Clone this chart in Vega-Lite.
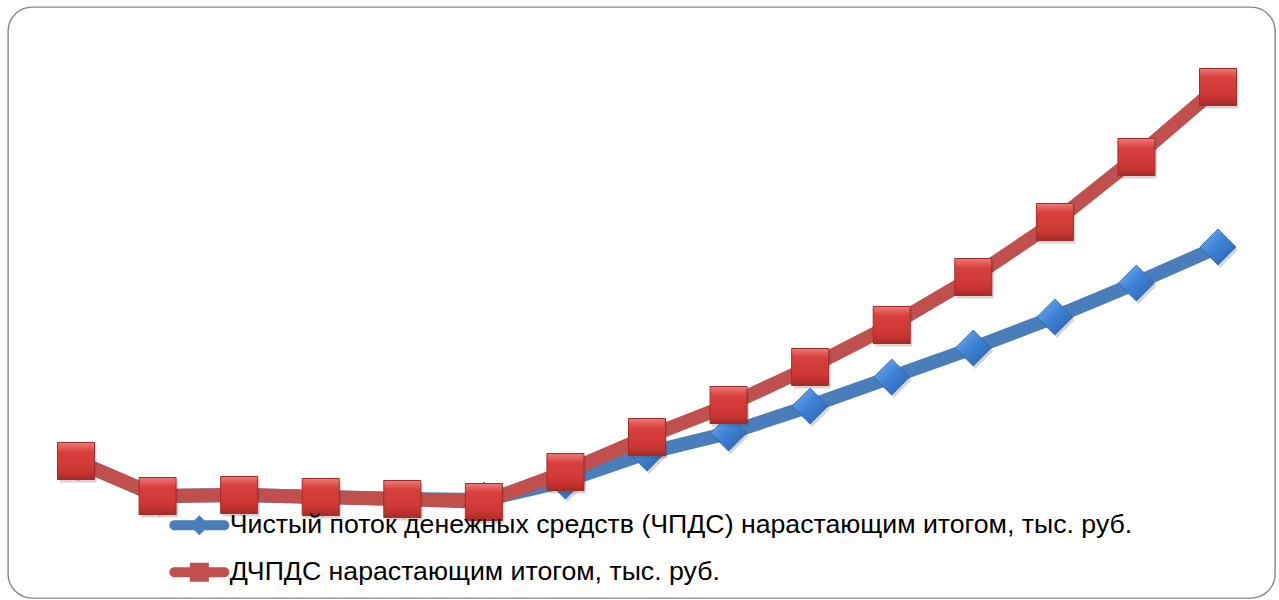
{
  "$schema": "https://vega.github.io/schema/vega-lite/v6.json",
  "width": 1267,
  "height": 591,
  "autosize": {"type": "none"},
  "padding": {"left": 8, "top": 7, "right": 4, "bottom": 2},
  "background": "#ffffff",
  "config": {
    "view": {"stroke": "#858585", "strokeWidth": 1.4, "cornerRadius": 24},
    "font": "Liberation Sans"
  },
  "data": {
    "values": [
      {"step": 1, "series": "Чистый поток денежных средств (ЧПДС) нарастающим итогом, тыс. руб.", "value": 1390},
      {"step": 2, "series": "Чистый поток денежных средств (ЧПДС) нарастающим итогом, тыс. руб.", "value": 1040},
      {"step": 3, "series": "Чистый поток денежных средств (ЧПДС) нарастающим итогом, тыс. руб.", "value": 1050},
      {"step": 4, "series": "Чистый поток денежных средств (ЧПДС) нарастающим итогом, тыс. руб.", "value": 1030},
      {"step": 5, "series": "Чистый поток денежных средств (ЧПДС) нарастающим итогом, тыс. руб.", "value": 1010},
      {"step": 6, "series": "Чистый поток денежных средств (ЧПДС) нарастающим итогом, тыс. руб.", "value": 1000},
      {"step": 7, "series": "Чистый поток денежных средств (ЧПДС) нарастающим итогом, тыс. руб.", "value": 1190},
      {"step": 8, "series": "Чистый поток денежных средств (ЧПДС) нарастающим итогом, тыс. руб.", "value": 1470},
      {"step": 9, "series": "Чистый поток денежных средств (ЧПДС) нарастающим итогом, тыс. руб.", "value": 1670},
      {"step": 10, "series": "Чистый поток денежных средств (ЧПДС) нарастающим итогом, тыс. руб.", "value": 1940},
      {"step": 11, "series": "Чистый поток денежных средств (ЧПДС) нарастающим итогом, тыс. руб.", "value": 2230},
      {"step": 12, "series": "Чистый поток денежных средств (ЧПДС) нарастающим итогом, тыс. руб.", "value": 2520},
      {"step": 13, "series": "Чистый поток денежных средств (ЧПДС) нарастающим итогом, тыс. руб.", "value": 2830},
      {"step": 14, "series": "Чистый поток денежных средств (ЧПДС) нарастающим итогом, тыс. руб.", "value": 3170},
      {"step": 15, "series": "Чистый поток денежных средств (ЧПДС) нарастающим итогом, тыс. руб.", "value": 3530},
      {"step": 1, "series": "ДЧПДС нарастающим итогом, тыс. руб.", "value": 1390},
      {"step": 2, "series": "ДЧПДС нарастающим итогом, тыс. руб.", "value": 1040},
      {"step": 3, "series": "ДЧПДС нарастающим итогом, тыс. руб.", "value": 1050},
      {"step": 4, "series": "ДЧПДС нарастающим итогом, тыс. руб.", "value": 1030},
      {"step": 5, "series": "ДЧПДС нарастающим итогом, тыс. руб.", "value": 1010},
      {"step": 6, "series": "ДЧПДС нарастающим итогом, тыс. руб.", "value": 980},
      {"step": 7, "series": "ДЧПДС нарастающим итогом, тыс. руб.", "value": 1280},
      {"step": 8, "series": "ДЧПДС нарастающим итогом, тыс. руб.", "value": 1630},
      {"step": 9, "series": "ДЧПДС нарастающим итогом, тыс. руб.", "value": 1950},
      {"step": 10, "series": "ДЧПДС нарастающим итогом, тыс. руб.", "value": 2330},
      {"step": 11, "series": "ДЧПДС нарастающим итогом, тыс. руб.", "value": 2750},
      {"step": 12, "series": "ДЧПДС нарастающим итогом, тыс. руб.", "value": 3230},
      {"step": 13, "series": "ДЧПДС нарастающим итогом, тыс. руб.", "value": 3780},
      {"step": 14, "series": "ДЧПДС нарастающим итогом, тыс. руб.", "value": 4430},
      {"step": 15, "series": "ДЧПДС нарастающим итогом, тыс. руб.", "value": 5130}
    ]
  },
  "encoding": {
    "x": {"field": "step", "type": "quantitative", "scale": {"domain": [1, 15], "range": [68, 1210]}, "axis": null},
    "y": {"field": "value", "type": "quantitative", "scale": {"domain": [20, 5930], "zero": false, "nice": false}, "axis": null}
  },
  "layer": [
    {
      "transform": [{"filter": "datum.series === 'Чистый поток денежных средств (ЧПДС) нарастающим итогом, тыс. руб.'"}],
      "mark": {"type": "line", "strokeWidth": 14, "strokeJoin": "round", "strokeCap": "round"},
      "encoding": {
        "color": {
          "field": "series",
          "type": "nominal",
          "scale": {
            "domain": ["Чистый поток денежных средств (ЧПДС) нарастающим итогом, тыс. руб.", "ДЧПДС нарастающим итогом, тыс. руб."],
            "range": ["#4a7ebb", "#c0504d"]
          },
          "legend": {
            "orient": "none",
            "legendX": 178,
            "legendY": 505,
            "direction": "vertical",
            "title": null,
            "padding": 0,
            "labelFont": "Liberation Sans",
            "labelFontSize": 26.7,
            "labelColor": "#000000",
            "labelLimit": 0,
            "labelOffset": 17,
            "rowPadding": 19,
            "symbolSize": 400,
            "symbolStrokeWidth": 0,
            "encode": {
              "symbols": {
                "update": {
                  "shape": [
                    {"test": "datum.value === 'Чистый поток денежных средств (ЧПДС) нарастающим итогом, тыс. руб.'", "value": "M-2.5,-0.5L2.5,-0.5A0.5,0.5,0,0,1,2.5,0.5L-2.5,0.5A0.5,0.5,0,0,1,-2.5,-0.5Z M0,-1L1,0L0,1L-1,0Z"},
                    {"value": "M-2.5,-0.5L2.5,-0.5A0.5,0.5,0,0,1,2.5,0.5L-2.5,0.5A0.5,0.5,0,0,1,-2.5,-0.5Z M-0.95,-0.95L0.95,-0.95L0.95,0.95L-0.95,0.95Z"}
                  ],
                  "fill": [
                    {"test": "datum.value === 'Чистый поток денежных средств (ЧПДС) нарастающим итогом, тыс. руб.'", "value": "#4a7ebb"},
                    {"value": "#c0504d"}
                  ],
                  "stroke": {"value": "transparent"},
                  "strokeWidth": {"value": 0}
                }
              }
            }
          }
        }
      }
    },
    {
      "transform": [{"filter": "datum.series === 'Чистый поток денежных средств (ЧПДС) нарастающим итогом, тыс. руб.'"}],
      "mark": {"type": "point", "shape": "diamond", "size": 1296, "filled": true, "fill": "#404040", "opacity": 0.22, "xOffset": 2, "yOffset": 3, "strokeWidth": 0}
    },
    {
      "transform": [{"filter": "datum.series === 'Чистый поток денежных средств (ЧПДС) нарастающим итогом, тыс. руб.'"}],
      "mark": {
        "type": "point",
        "shape": "diamond",
        "size": 1296,
        "filled": true,
        "opacity": 1,
        "fill": {
          "gradient": "linear",
          "x1": 0, "y1": 0, "x2": 1, "y2": 1,
          "stops": [
            {"offset": 0, "color": "#7ab2f2"},
            {"offset": 0.45, "color": "#3f84d8"},
            {"offset": 1, "color": "#2a5fa6"}
          ]
        },
        "stroke": "#2f66ad",
        "strokeWidth": 0.8
      }
    },
    {
      "transform": [{"filter": "datum.series === 'ДЧПДС нарастающим итогом, тыс. руб.'"}],
      "mark": {"type": "line", "strokeWidth": 14, "strokeJoin": "round", "strokeCap": "round"},
      "encoding": {
        "color": {"field": "series", "type": "nominal"}
      }
    },
    {
      "transform": [{"filter": "datum.series === 'ДЧПДС нарастающим итогом, тыс. руб.'"}],
      "mark": {"type": "point", "shape": "square", "size": 1369, "filled": true, "fill": "#404040", "opacity": 0.22, "xOffset": 2, "yOffset": 3, "strokeWidth": 0}
    },
    {
      "transform": [{"filter": "datum.series === 'ДЧПДС нарастающим итогом, тыс. руб.'"}],
      "mark": {
        "type": "point",
        "shape": "square",
        "size": 1369,
        "filled": true,
        "opacity": 1,
        "fill": {
          "gradient": "linear",
          "x1": 0, "y1": 0, "x2": 0, "y2": 1,
          "stops": [
            {"offset": 0, "color": "#ee7a77"},
            {"offset": 0.25, "color": "#d8403d"},
            {"offset": 0.75, "color": "#cc3734"},
            {"offset": 1, "color": "#a82a28"}
          ]
        },
        "stroke": "#a12d2b",
        "strokeWidth": 1
      }
    }
  ]
}
